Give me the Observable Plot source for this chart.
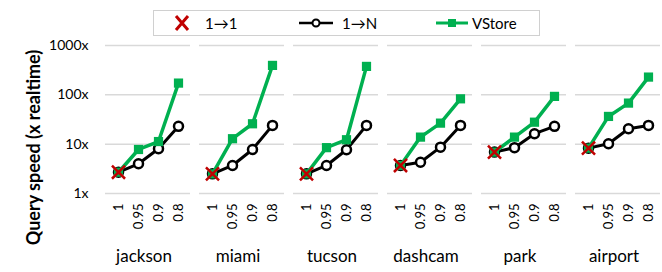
<!DOCTYPE html>
<html>
<head>
<meta charset="utf-8">
<script src="https://cdn.jsdelivr.net/npm/d3@7"></script>
<script src="https://cdn.jsdelivr.net/npm/@observablehq/plot@0.6"></script>
<style>
  html, body { margin: 0; padding: 0; background: white; }
  #wrap { position: relative; width: 662px; height: 272px; font-family: Lato, "Noto Sans", sans-serif; }
  #legend { position: absolute; left: 153px; top: 10px; width: 385px; height: 24px; border: 1px solid #d0d0d0; background: white; font-size: 15px; color: #000; }
  #legend .item { position: absolute; top: 0; height: 24px; display: flex; align-items: center; }
  #legend svg { display: block; }
</style>
</head>
<body>
<div id="wrap">
  <div id="chart"></div>
  <div id="legend"></div>
</div>
<script>
const datasets = ["jackson", "miami", "tucson", "dashcam", "park", "airport"];
const thresholds = ["1", "0.95", "0.9", "0.8"];
const yTicks = [1, 10, 100, 1000];
const seriesNames = ["1\u21921", "1\u2192N", "VStore"];
// 1→1 only exists at threshold 1
const oneToOne = [2.7, 2.5, 2.5, 3.7, 6.9, 8.3];
const oneToN = [
  [2.7, 4.0, 8.1, 23],
  [2.5, 3.7, 7.8, 24],
  [2.5, 3.7, 7.7, 24],
  [3.7, 4.3, 8.7, 24],
  [6.9, 8.5, 16.3, 23],
  [8.3, 10.2, 20.5, 24]
];
const vstore = [
  [2.7, 7.8, 11.3, 173],
  [2.5, 12.9, 25.9, 395],
  [2.5, 8.5, 12.3, 377],
  [3.7, 13.9, 26.7, 83],
  [6.9, 13.9, 27.9, 93],
  [8.3, 36.5, 68, 229]
];

const colors = { one: "#C00000", n: "#000000", v: "#00B050" };

const nData = [], vData = [], oData = [];
datasets.forEach((d, i) => {
  thresholds.forEach((t, j) => {
    nData.push({ dataset: d, threshold: t, value: oneToN[i][j] });
    vData.push({ dataset: d, threshold: t, value: vstore[i][j] });
  });
  oData.push({ dataset: d, threshold: thresholds[0], value: oneToOne[i] });
});

const chart = Plot.plot({
  width: 662,
  height: 272,
  marginLeft: 105,
  marginRight: 2,
  marginTop: 45,
  marginBottom: 79,
  style: { fontFamily: "Lato, 'Noto Sans', sans-serif", fontSize: "14px", color: "#000", background: "white" },
  fx: { domain: datasets, paddingInner: 0.1, paddingOuter: 0, label: null, axis: null },
  x: { type: "point", domain: thresholds, padding: 0.55, label: null },
  y: { type: "log", domain: [1, 1000], label: null },
  marks: [
    Plot.gridY({ ticks: yTicks, stroke: "#d9d9d9", strokeOpacity: 1, strokeWidth: 1.5 }),
    Plot.axisY({ ticks: yTicks, tickFormat: d => d + "x", tickSize: 0, tickPadding: 17, fontSize: 14,
      label: "Query speed (x realtime)", labelAnchor: "center", labelOffset: 78, labelArrow: false }),
    Plot.axisX({ tickRotate: -90, tickSize: 0, tickPadding: 10, fontSize: 13, label: null }),
    Plot.text(datasets, { fx: d => d, text: d => d, frameAnchor: "bottom", dy: 68, dx: -4, fontSize: 17, fill: "#000" }),
    Plot.line(nData, { fx: "dataset", x: "threshold", y: "value", stroke: colors.n, strokeWidth: 3 }),
    Plot.dot(nData, { fx: "dataset", x: "threshold", y: "value", symbol: "circle", r: 4.5, fill: "white", stroke: colors.n, strokeWidth: 2.5 }),
    Plot.line(vData, { fx: "dataset", x: "threshold", y: "value", stroke: colors.v, strokeWidth: 3.5 }),
    Plot.dot(vData, { fx: "dataset", x: "threshold", y: "value", symbol: "square", r: 5.2, fill: colors.v }),
    Plot.dot(oData, { fx: "dataset", x: "threshold", y: "value", symbol: "times", r: 6, stroke: colors.one, strokeWidth: 2.5 })
  ]
});
document.getElementById("chart").appendChild(chart);
const yl = d3.select(chart).selectAll('[aria-label="y-axis label"]').attr("font-weight", "bold").attr("font-size", 18);
yl.selectAll("text").attr("dx", -28);

// Legend
const legend = d3.select("#legend");
function item(left, swatch, label) {
  const it = legend.append("div").attr("class", "item").style("left", left + "px");
  const s = it.append("svg").attr("width", swatch.w).attr("height", 20);
  swatch.draw(s);
  it.append("span").text(label).style("margin-left", swatch.gap + "px");
}
item(20, { w: 16, gap: 15, draw: s => s.append("path").attr("d", "M2,3L14,17M14,3L2,17").attr("stroke", colors.one).attr("stroke-width", 3).attr("fill", "none") }, seriesNames[0]);
item(144, { w: 36, gap: 8, draw: s => {
  s.append("line").attr("x1", 1).attr("x2", 35).attr("y1", 10).attr("y2", 10).attr("stroke", colors.n).attr("stroke-width", 2.5);
  s.append("circle").attr("cx", 18).attr("cy", 10).attr("r", 3.5).attr("fill", "white").attr("stroke", colors.n).attr("stroke-width", 2);
} }, seriesNames[1]);
item(281, { w: 34, gap: 3, draw: s => {
  s.append("line").attr("x1", 1).attr("x2", 33).attr("y1", 10).attr("y2", 10).attr("stroke", colors.v).attr("stroke-width", 3);
  s.append("rect").attr("x", 13).attr("y", 6).attr("width", 8).attr("height", 8).attr("fill", colors.v);
} }, seriesNames[2]);
</script>
</body>
</html>
